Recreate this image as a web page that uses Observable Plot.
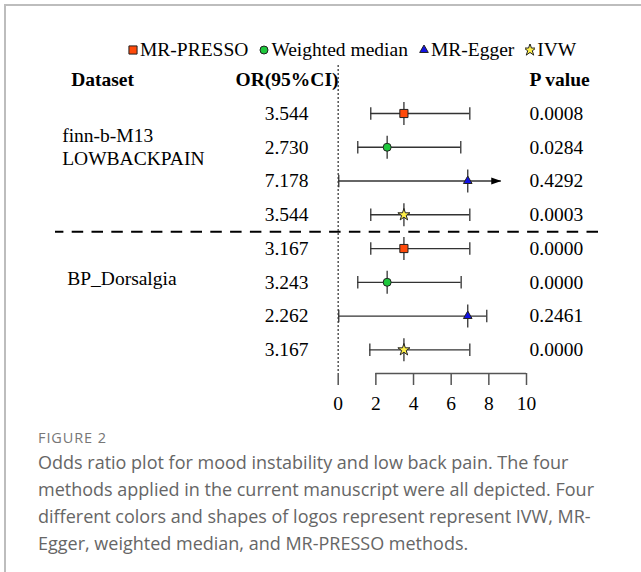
<!DOCTYPE html>
<html><head><meta charset="utf-8">
<script src="https://cdn.jsdelivr.net/npm/d3@7"></script>
<script src="https://cdn.jsdelivr.net/npm/@observablehq/plot@0.6"></script>
<style>
html,body{margin:0;padding:0;background:#fff;}
#page{position:relative;width:641px;height:572px;overflow:hidden;background:#fff;}
#box{position:absolute;left:4px;top:4px;width:660px;height:600px;border-left:2px solid #bdbdbd;border-top:2px solid #bdbdbd;}
#legend{position:absolute;left:128px;top:38px;display:flex;align-items:center;font-family:"Liberation Serif";font-size:19.5px;line-height:23px;white-space:nowrap;color:#000;}
.item{display:flex;align-items:center;margin-right:11px;}
.item svg{margin-right:2px;display:block;}
#chart{position:absolute;left:0;top:62px;}
#fig{position:absolute;left:38px;top:429px;font-family:"Open Sans";font-size:14.5px;letter-spacing:0.9px;color:#777;line-height:18px;white-space:nowrap;}
#cap{position:absolute;left:38px;top:449px;font-family:"Open Sans";font-size:18px;color:#666;line-height:27px;white-space:nowrap;}
</style></head>
<body><div id="page">
<div id="box"></div>
<div id="legend"></div>
<div id="chart"></div>
<div id="fig">FIGURE 2</div>
<div id="cap"></div>
</div>
<script>
// ---- data ----
const datasets = ["finn-b-M13\nLOWBACKPAIN", "BP_Dorsalgia"];
const methods = ["MR-PRESSO", "Weighted median", "MR-Egger", "IVW"];
const orLabels = ["3.544", "2.730", "7.178", "3.544", "3.167", "3.243", "2.262", "3.167"];
const pLabels = ["0.0008", "0.0284", "0.4292", "0.0003", "0.0000", "0.0000", "0.2461", "0.0000"];
const estimates = [3.49, 2.60, 6.88, 3.49, 3.49, 2.60, 6.88, 3.49];
const lowers = [1.73, 1.04, 0.03, 1.73, 1.73, 1.04, 0.03, 1.68];
const uppers = [6.99, 6.51, 8.66, 6.99, 6.99, 6.53, 7.89, 6.99];
const arrowUpper = [false, false, true, false, false, false, false, false];
const xTicks = [0, 2, 4, 6, 8, 10];
const headers = ["Dataset", "OR(95%CI)", "P value"];
const captionLines = [
  "Odds ratio plot for mood instability and low back pain. The four",
  "methods applied in the current manuscript were all depicted. Four",
  "different colors and shapes of logos represent represent IVW, MR-",
  "Egger, weighted median, and MR-PRESSO methods."
];

// ---- styles / layout ----
const methodStyle = {
  "MR-PRESSO": {symbol: "square", fill: "#ff4a0a", r: 4.6},
  "Weighted median": {symbol: "circle", fill: "#1ec83c", r: 4},
  "MR-Egger": {symbol: "triangle", fill: "#1212e6", r: 3.2},
  "IVW": {symbol: "star", fill: "#fff04a", r: 3.8}
};
const d3Symbols = {square: d3.symbolSquare, circle: d3.symbolCircle, triangle: d3.symbolTriangle, star: d3.symbolStar};
const serif = "Liberation Serif";
const FS = 19.5;
const headerRow = -1;
const separatorRow = 3.5;
const axisRow = 7.70;
const groupDx = [6.7, 11.7];
const groupDy = [-1, -4];
const headerDx = [15.7, 283, 474];
const headerAnchor = ["start", "end", "start"];

const rows = estimates.map((est, i) => ({
  row: i, method: methods[i % 4], est, lo: lowers[i], hi: uppers[i],
  arrow: arrowUpper[i], or: orLabels[i], p: pLabels[i]
}));
const groups = datasets.map((label, g) => ({label, row: g * 4 + 1}));

const vbar = {draw(ctx, size) { const h = Math.sqrt(size / Math.PI); ctx.moveTo(0, -h); ctx.lineTo(0, h); }};
const arrowHead = {draw(ctx) { ctx.moveTo(0, 0); ctx.lineTo(-10, -3.5); ctx.lineTo(-10, 3.5); ctx.closePath(); }};
const lineStyle = {stroke: "#333", strokeWidth: 1.3};

const chart = Plot.plot({
  width: 641, height: 360,
  marginLeft: 55, marginRight: 43, marginTop: 3, marginBottom: 49,
  x: {domain: [0, 10], range: [337.7, 526]},
  y: {domain: [0, 7], range: [51, 287.3], axis: null},
  style: {fontFamily: serif, color: "black", background: "transparent", overflow: "visible"},
  marks: [
    Plot.ruleY([separatorRow], {stroke: "#000", strokeWidth: 2, strokeDasharray: "11.5,8.3", strokeDashoffset: 3.1}),
    Plot.ruleX([0], {stroke: "#555", strokeWidth: 1.5, strokeDasharray: "2,2"}),
    Plot.ruleY([axisRow], {x1: xTicks[1], x2: xTicks[xTicks.length - 1], stroke: "#555", strokeWidth: 1.5}),
    Plot.axisX({ticks: xTicks, tickSize: 12, tickPadding: 11, fontSize: FS, stroke: "#555", strokeWidth: 1.5, fill: "#000", label: null, tickFormat: d => String(d)}),
    Plot.ruleY(rows, {y: "row", x1: "lo", x2: "hi", ...lineStyle}),
    Plot.dot(rows, {x: "lo", y: "row", symbol: vbar, r: 6.3, fill: "none", ...lineStyle}),
    Plot.dot(rows.filter(d => !d.arrow), {x: "hi", y: "row", symbol: vbar, r: 6.3, fill: "none", ...lineStyle}),
    Plot.dot(rows, {x: "est", y: "row", symbol: vbar, r: 11.5, fill: "none", ...lineStyle}),
    Plot.dot(rows.filter(d => d.arrow), {x: "hi", y: "row", symbol: arrowHead, fill: "#000", stroke: "none"}),
    ...methods.map(m => Plot.dot(rows.filter(d => d.method === m), {
      x: "est", y: "row", symbol: methodStyle[m].symbol, fill: methodStyle[m].fill,
      r: methodStyle[m].r, stroke: "#222", strokeWidth: 1
    })),
    Plot.text(rows, {y: "row", text: "or", frameAnchor: "left", dx: 253, textAnchor: "end", fontSize: FS}),
    Plot.text(rows, {y: "row", text: "p", frameAnchor: "left", dx: 474, textAnchor: "start", fontSize: FS}),
    ...headers.map((h, i) => Plot.text([h], {y: () => headerRow, text: d => d, frameAnchor: "left", dx: headerDx[i], textAnchor: headerAnchor[i], fontSize: FS, fontWeight: "bold"})),
    ...groups.map((g, i) => Plot.text([g], {y: "row", text: "label", frameAnchor: "left", dx: groupDx[i], dy: groupDy[i], textAnchor: "start", fontSize: FS, lineHeight: 1.15}))
  ]
});
document.getElementById("chart").appendChild(chart);

// legend
const legend = d3.select("#legend");
methods.forEach(m => {
  const s = methodStyle[m];
  const item = legend.append("span").attr("class", "item");
  const svg = item.append("svg").attr("width", 10).attr("height", 12);
  svg.append("path").attr("transform", "translate(5,6)")
    .attr("d", d3.symbol(d3Symbols[s.symbol], s.r * s.r * Math.PI)())
    .attr("fill", s.fill).attr("stroke", "#222").attr("stroke-width", 1);
  item.append("span").text(m);
});

document.getElementById("cap").innerHTML = captionLines.map(l => l.replace(/&/g, "&amp;")).join("<br>");
</script>
</body></html>
